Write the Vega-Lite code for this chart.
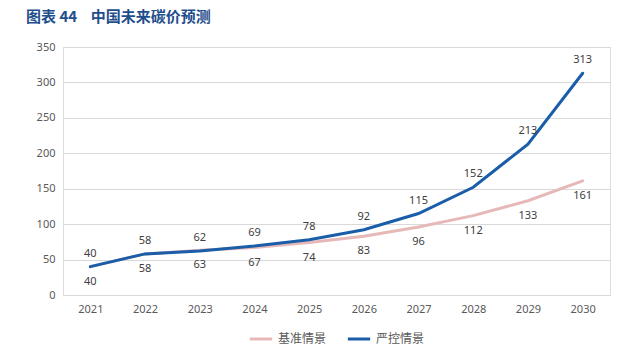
{
  "$schema": "https://vega.github.io/schema/vega-lite/v6.json",
  "autosize": {"type": "none"},
  "width": 547,
  "height": 248,
  "padding": {"left": 63, "top": 47, "right": 30, "bottom": 67},
  "background": "white",
  "title": {
    "text": "图表 44\u00a0\u00a0\u00a0\u00a0中国未来碳价预测",
    "anchor": "start",
    "frame": "group",
    "dx": -37,
    "offset": 16,
    "font": "Noto Sans CJK SC",
    "fontSize": 15,
    "fontWeight": "bold",
    "color": "#1F4E8C"
  },
  "config": {
    "legend": {"layout": {"bottom": {"anchor": "middle"}}}
  },
  "data": {
    "values": [
      {"year": "2021", "series": "基准情景", "value": 40},
      {"year": "2022", "series": "基准情景", "value": 58},
      {"year": "2023", "series": "基准情景", "value": 63},
      {"year": "2024", "series": "基准情景", "value": 67},
      {"year": "2025", "series": "基准情景", "value": 74},
      {"year": "2026", "series": "基准情景", "value": 83},
      {"year": "2027", "series": "基准情景", "value": 96},
      {"year": "2028", "series": "基准情景", "value": 112},
      {"year": "2029", "series": "基准情景", "value": 133},
      {"year": "2030", "series": "基准情景", "value": 161},
      {"year": "2021", "series": "严控情景", "value": 40},
      {"year": "2022", "series": "严控情景", "value": 58},
      {"year": "2023", "series": "严控情景", "value": 62},
      {"year": "2024", "series": "严控情景", "value": 69},
      {"year": "2025", "series": "严控情景", "value": 78},
      {"year": "2026", "series": "严控情景", "value": 92},
      {"year": "2027", "series": "严控情景", "value": 115},
      {"year": "2028", "series": "严控情景", "value": 152},
      {"year": "2029", "series": "严控情景", "value": 213},
      {"year": "2030", "series": "严控情景", "value": 313}
    ]
  },
  "encoding": {
    "x": {
      "field": "year", "type": "ordinal",
      "scale": {"type": "point", "padding": 0.5},
      "axis": {"title": null, "labelAngle": 0, "domain": true, "domainColor": "#d9d9d9", "ticks": false, "labelPadding": 8, "labelColor": "#595959", "labelFont": "Noto Sans", "labelFontSize": 11}
    },
    "y": {
      "field": "value", "type": "quantitative",
      "scale": {"domain": [0, 350]},
      "axis": {"title": null, "values": [0, 50, 100, 150, 200, 250, 300, 350], "domain": false, "ticks": false, "labelPadding": 8, "gridColor": "#d9d9d9", "labelColor": "#595959", "labelFont": "Noto Sans", "labelFontSize": 11}
    }
  },
  "layer": [
    {
      "mark": {"type": "line", "strokeWidth": 3, "strokeCap": "round"},
      "encoding": {
        "color": {
          "field": "series", "type": "nominal",
          "scale": {"domain": ["基准情景", "严控情景"], "range": ["#E6B9B8", "#1A5DA8"]},
          "legend": {"title": null, "orient": "bottom", "direction": "horizontal", "symbolType": "stroke", "symbolStrokeWidth": 3, "symbolSize": 500, "labelFont": "Noto Sans CJK SC", "labelFontSize": 12, "labelColor": "#595959", "offset": 12, "columnPadding": 14}
        }
      }
    },
    {
      "transform": [{"filter": "datum.series === '严控情景'"}],
      "mark": {"type": "text", "dy": -13, "font": "Noto Sans", "fontSize": 11, "color": "#404040"},
      "encoding": {"text": {"field": "value", "type": "quantitative"}}
    },
    {
      "transform": [{"filter": "datum.series === '基准情景'"}],
      "mark": {"type": "text", "dy": 15, "font": "Noto Sans", "fontSize": 11, "color": "#404040"},
      "encoding": {"text": {"field": "value", "type": "quantitative"}}
    }
  ]
}
